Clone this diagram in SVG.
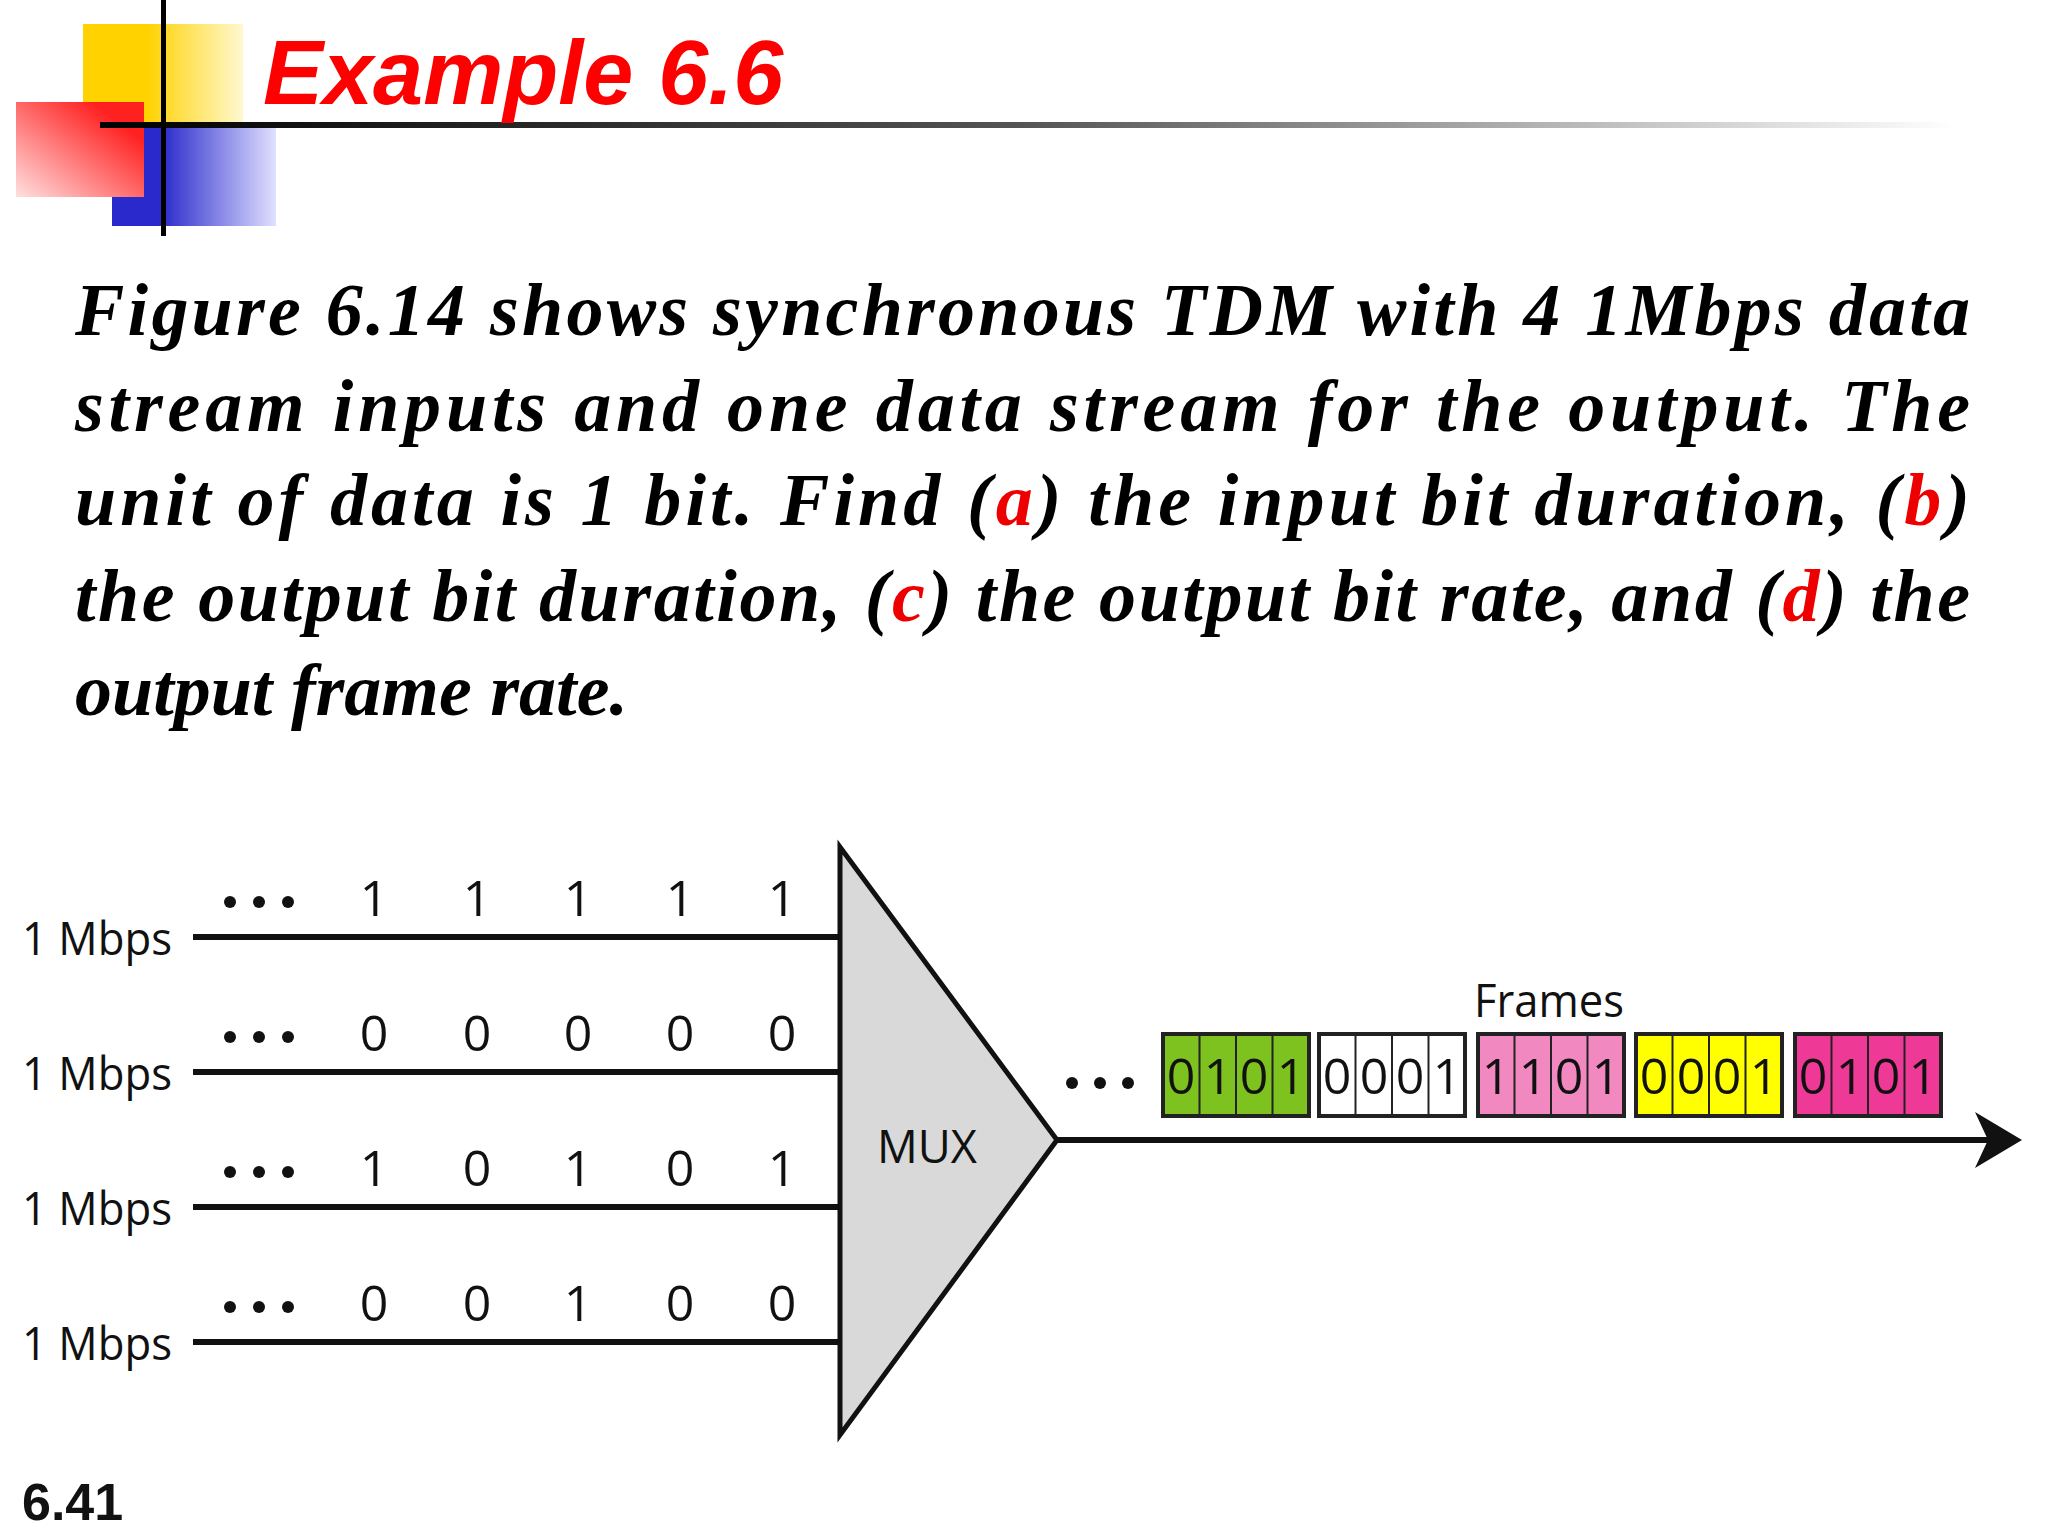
<svg xmlns="http://www.w3.org/2000/svg" width="2048" height="1536" viewBox="0 0 2048 1536">
<defs>
<linearGradient id="hl" x1="0" x2="1" y1="0" y2="0"><stop offset="0" stop-color="#000"/><stop offset="0.5" stop-color="#555"/><stop offset="1" stop-color="#fff"/></linearGradient>
<linearGradient id="yl" x1="0" x2="1"><stop offset="0.4" stop-color="#ffd200"/><stop offset="1" stop-color="#fff8d0"/></linearGradient>
<linearGradient id="rd" x1="1" x2="0" y1="0" y2="1"><stop offset="0.2" stop-color="#ff2020"/><stop offset="1" stop-color="#ffe0e0"/></linearGradient>
<linearGradient id="bl" x1="0" x2="1"><stop offset="0.3" stop-color="#2a2acc"/><stop offset="1" stop-color="#e0e0ff"/></linearGradient>
</defs>
<style>
.p{font-family:"Liberation Serif",serif;font-weight:bold;font-style:italic;font-size:74px;fill:#000}
.r{fill:#e00}
.s{font-family:"Open Sans","Liberation Sans",sans-serif;font-size:46px;fill:#111}
.b{font-family:"Open Sans","Liberation Sans",sans-serif;font-size:50px;fill:#111;text-anchor:middle}
.ln{stroke:#111;stroke-width:6;fill:none}
.dot{fill:#111}
.c{stroke:#222;stroke-width:2}
</style>
<rect width="2048" height="1536" fill="#fff"/>
<g id="logo">
<rect x="83" y="24" width="160" height="101" fill="url(#yl)"/>
<rect x="112" y="125" width="164" height="101" fill="url(#bl)"/>
<rect x="16" y="102" width="128" height="95" fill="url(#rd)"/>
<rect x="100" y="122" width="1856" height="6" fill="url(#hl)"/>
<rect x="161" y="0" width="5" height="236" fill="#000"/>
</g>
<text x="263" y="104" font-family="Liberation Sans,sans-serif" font-weight="bold" font-style="italic" font-size="90" fill="#f00">Example 6.6</text>
<g id="para">
<text class="p" x="75" y="335" textLength="1895" lengthAdjust="spacing">Figure 6.14 shows synchronous TDM with 4 1Mbps data</text>
<text class="p" x="75" y="431" textLength="1895" lengthAdjust="spacing">stream  inputs and one data stream for the output. The</text>
<text class="p" x="75" y="525" textLength="1895" lengthAdjust="spacing">unit of data is 1 bit. Find (<tspan class="r">a</tspan>) the input bit duration, (<tspan class="r">b</tspan>)</text>
<text class="p" x="75" y="621" textLength="1895" lengthAdjust="spacing">the output bit duration, (<tspan class="r">c</tspan>) the output bit rate, and (<tspan class="r">d</tspan>) the</text>
<text class="p" x="75" y="715">output frame rate.</text>
</g>
<g id="connectors">
<line class="ln" x1="193" y1="937" x2="840" y2="937"/>
<line class="ln" x1="193" y1="1072" x2="840" y2="1072"/>
<line class="ln" x1="193" y1="1207" x2="840" y2="1207"/>
<line class="ln" x1="193" y1="1342" x2="840" y2="1342"/>
<line class="ln" x1="1057" y1="1140" x2="1990" y2="1140"/>
<polygon points="1975,1112 2022,1140 1975,1168 1988,1140" fill="#111"/>
</g>
<g id="inputs">
<text class="s" x="22" y="955" textLength="150" lengthAdjust="spacingAndGlyphs">1 Mbps</text>
<text class="s" x="22" y="1090" textLength="150" lengthAdjust="spacingAndGlyphs">1 Mbps</text>
<text class="s" x="22" y="1225" textLength="150" lengthAdjust="spacingAndGlyphs">1 Mbps</text>
<text class="s" x="22" y="1360" textLength="150" lengthAdjust="spacingAndGlyphs">1 Mbps</text>
<g class="dot">
<circle cx="230" cy="902" r="6"/><circle cx="259" cy="902" r="6"/><circle cx="288" cy="902" r="6"/>
<circle cx="230" cy="1037" r="6"/><circle cx="259" cy="1037" r="6"/><circle cx="288" cy="1037" r="6"/>
<circle cx="230" cy="1172" r="6"/><circle cx="259" cy="1172" r="6"/><circle cx="288" cy="1172" r="6"/>
<circle cx="230" cy="1307" r="6"/><circle cx="259" cy="1307" r="6"/><circle cx="288" cy="1307" r="6"/>
<circle cx="1072" cy="1083" r="6"/><circle cx="1100" cy="1083" r="6"/><circle cx="1128" cy="1083" r="6"/>
</g>
<text class="b" y="916"><tspan x="374">1</tspan><tspan x="477">1</tspan><tspan x="578">1</tspan><tspan x="680">1</tspan><tspan x="782">1</tspan></text>
<text class="b" y="1051"><tspan x="374">0</tspan><tspan x="477">0</tspan><tspan x="578">0</tspan><tspan x="680">0</tspan><tspan x="782">0</tspan></text>
<text class="b" y="1186"><tspan x="374">1</tspan><tspan x="477">0</tspan><tspan x="578">1</tspan><tspan x="680">0</tspan><tspan x="782">1</tspan></text>
<text class="b" y="1321"><tspan x="374">0</tspan><tspan x="477">0</tspan><tspan x="578">1</tspan><tspan x="680">0</tspan><tspan x="782">0</tspan></text>
</g>
<g id="mux">
<polygon points="840,847 840,1435 1057,1140" fill="#d9d9d9" stroke="#111" stroke-width="5" stroke-linejoin="miter"/>
<text class="s" x="877" y="1163" font-size="52" textLength="100" lengthAdjust="spacingAndGlyphs">MUX</text>
</g>
<g id="frames">
<text class="s" x="1474" y="1017" font-size="50" textLength="150" lengthAdjust="spacingAndGlyphs">Frames</text>
<g id="f1"><rect x="1163" y="1034" width="146" height="82" fill="#7dc21e" stroke="#222" stroke-width="4"/>
<line class="c" x1="1199.5" y1="1034" x2="1199.5" y2="1116"/><line class="c" x1="1236" y1="1034" x2="1236" y2="1116"/><line class="c" x1="1272.5" y1="1034" x2="1272.5" y2="1116"/>
<text class="b" y="1094"><tspan x="1181">0</tspan><tspan x="1218">1</tspan><tspan x="1254">0</tspan><tspan x="1291">1</tspan></text></g>
<g id="f2"><rect x="1319" y="1034" width="146" height="82" fill="#fff" stroke="#222" stroke-width="4"/>
<line class="c" x1="1355.5" y1="1034" x2="1355.5" y2="1116"/><line class="c" x1="1392" y1="1034" x2="1392" y2="1116"/><line class="c" x1="1428.5" y1="1034" x2="1428.5" y2="1116"/>
<text class="b" y="1094"><tspan x="1337">0</tspan><tspan x="1374">0</tspan><tspan x="1410">0</tspan><tspan x="1447">1</tspan></text></g>
<g id="f3"><rect x="1478" y="1034" width="146" height="82" fill="#f288c0" stroke="#222" stroke-width="4"/>
<line class="c" x1="1514.5" y1="1034" x2="1514.5" y2="1116"/><line class="c" x1="1551" y1="1034" x2="1551" y2="1116"/><line class="c" x1="1587.5" y1="1034" x2="1587.5" y2="1116"/>
<text class="b" y="1094"><tspan x="1496">1</tspan><tspan x="1533">1</tspan><tspan x="1569">0</tspan><tspan x="1606">1</tspan></text></g>
<g id="f4"><rect x="1636" y="1034" width="146" height="82" fill="#ffff00" stroke="#222" stroke-width="4"/>
<line class="c" x1="1672.5" y1="1034" x2="1672.5" y2="1116"/><line class="c" x1="1709" y1="1034" x2="1709" y2="1116"/><line class="c" x1="1745.5" y1="1034" x2="1745.5" y2="1116"/>
<text class="b" y="1094"><tspan x="1654">0</tspan><tspan x="1691">0</tspan><tspan x="1727">0</tspan><tspan x="1764">1</tspan></text></g>
<g id="f5"><rect x="1795" y="1034" width="146" height="82" fill="#ee3a96" stroke="#222" stroke-width="4"/>
<line class="c" x1="1831.5" y1="1034" x2="1831.5" y2="1116"/><line class="c" x1="1868" y1="1034" x2="1868" y2="1116"/><line class="c" x1="1904.5" y1="1034" x2="1904.5" y2="1116"/>
<text class="b" y="1094"><tspan x="1813">0</tspan><tspan x="1850">1</tspan><tspan x="1886">0</tspan><tspan x="1923">1</tspan></text></g>
</g>
<text x="22" y="1520" font-family="Liberation Sans,sans-serif" font-weight="bold" font-size="52" fill="#111">6.41</text>
</svg>
